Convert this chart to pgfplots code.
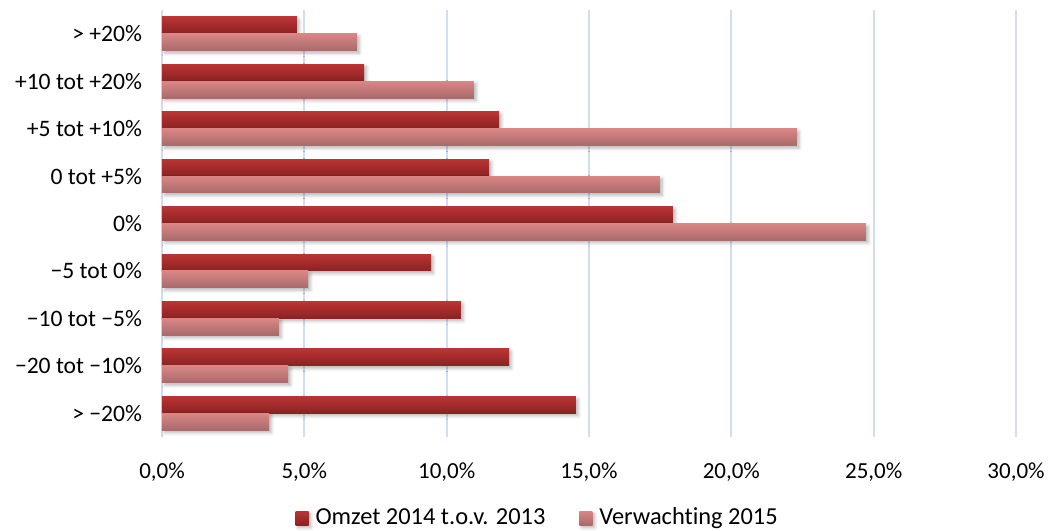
\documentclass[border=0pt]{standalone}
\usepackage{pgfplots}
\pgfplotsset{compat=1.18}
\usepackage{fontspec}
\setmainfont[Ligatures=NoCommon]{Carlito}
\usetikzlibrary{shadows.blur}
\definecolor{gridc}{RGB}{208,222,240}
\definecolor{darkT}{RGB}{187,52,52}
\definecolor{darkB}{RGB}{138,34,34}
\definecolor{pinkT}{RGB}{218,134,134}
\definecolor{pinkB}{RGB}{168,106,106}
\pgfplotsset{
  omz/.style={draw=none, top color=darkT, bottom color=darkB, bar shift=0.1775,
    blur shadow={shadow xshift=1.2pt, shadow yshift=-1.3pt, shadow blur radius=1.6pt, shadow opacity=28}},
  ver/.style={draw=none, top color=pinkT, bottom color=pinkB, bar shift=-0.1775,
    blur shadow={shadow xshift=1.2pt, shadow yshift=-1.3pt, shadow blur radius=1.6pt, shadow opacity=28}},
}
\begin{document}
\fontsize{11.5}{13.5}\selectfont
\begin{tikzpicture}
\useasboundingbox (-81pt,-46.5pt) rectangle (443pt,218.5pt);
\begin{axis}[
  scale only axis, width=427pt, height=213.5pt,
  xbar, bar width=0.355,
  xmin=0, xmax=30, ymin=-0.5, ymax=8.5,
  axis line style={draw=none},
  major tick length=0pt,
  xtick={0,5,...,30},
  xticklabels={0{,}0\%,5{,}0\%,10{,}0\%,15{,}0\%,20{,}0\%,25{,}0\%,30{,}0\%},
  ytick={0,...,8},
  yticklabels={{> −20\%},{−20 tot −10\%},{−10 tot −5\%},{−5 tot 0\%},{0\%},{0 tot +5\%},{+5 tot +10\%},{+10 tot +20\%},{> +20\%}},
  xticklabel style={font=\fontsize{11.5}{13.5}\selectfont, yshift=-9pt},
  yticklabel style={font=\fontsize{11.8}{13.5}\selectfont, xshift=-6pt},
  xmajorgrids, grid style={draw=gridc, line width=1pt},
  legend columns=2,
  legend style={at={(0.441,-0.19)}, anchor=center, draw=none, fill=none,
    font=\fontsize{12.2}{14}\selectfont,
    /tikz/every odd column/.append style={column sep=1.5pt},
    /tikz/every even column/.append style={column sep=15pt}},
  legend image code/.code={\path[draw=none,#1] (0pt,-3.5pt) rectangle (6.5pt,3.5pt);},
]
\addplot[omz] coordinates {(14.54,0)};
\addplot[omz, forget plot] coordinates {(12.19,1)};
\addplot[omz, forget plot] coordinates {(10.5,2)};
\addplot[omz, forget plot] coordinates {(9.45,3)};
\addplot[omz, forget plot] coordinates {(17.95,4)};
\addplot[omz, forget plot] coordinates {(11.49,5)};
\addplot[omz, forget plot] coordinates {(11.84,6)};
\addplot[omz, forget plot] coordinates {(7.1,7)};
\addplot[omz, forget plot] coordinates {(4.74,8)};
\addplot[ver] coordinates {(3.76,0)};
\addplot[ver, forget plot] coordinates {(4.43,1)};
\addplot[ver, forget plot] coordinates {(4.11,2)};
\addplot[ver, forget plot] coordinates {(5.13,3)};
\addplot[ver, forget plot] coordinates {(24.73,4)};
\addplot[ver, forget plot] coordinates {(17.49,5)};
\addplot[ver, forget plot] coordinates {(22.3,6)};
\addplot[ver, forget plot] coordinates {(10.96,7)};
\addplot[ver, forget plot] coordinates {(6.85,8)};
\legend{Omzet 2014 t.o.v. 2013, Verwachting 2015}
\end{axis}
\end{tikzpicture}
\end{document}
